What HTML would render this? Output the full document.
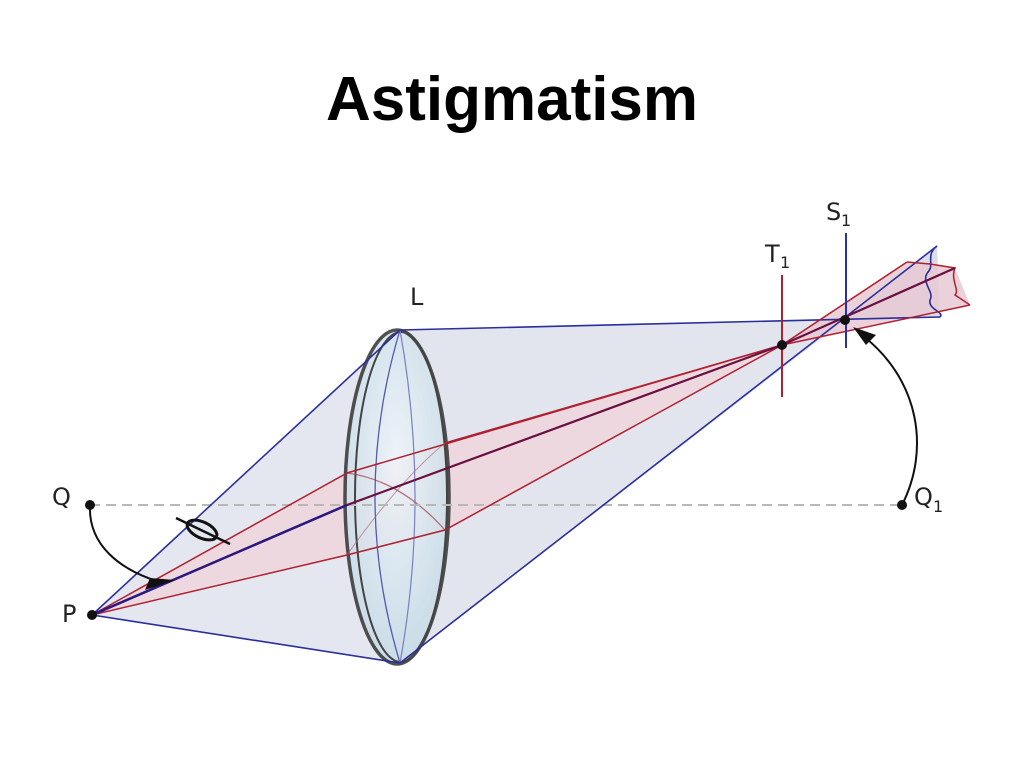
<!DOCTYPE html>
<html><head><meta charset="utf-8"><style>
html,body{margin:0;padding:0;background:#fff;}
svg{display:block;}
</style></head><body>
<svg width="1024" height="768" viewBox="0 0 1024 768" xmlns="http://www.w3.org/2000/svg">
<text x="512" y="120" text-anchor="middle" font-family="Liberation Sans, sans-serif" font-weight="bold" font-size="62">Astigmatism</text>
<polygon points="92,615 400,330 400,663" fill="#e4e6f0" stroke="none"/>
<polygon points="400,330 940,317 845,320 400,663" fill="#e2e4ee"/>
<polygon points="845,320 937,246 940,317" fill="#dcdde8"/>
<polygon points="92,615 347,473 445,443 782,345 445,530 347,555" fill="#f0d4dc" opacity="0.8"/>
<polygon points="782,345 907,262 955,268 970,305" fill="#e8c9d2" opacity="0.85"/>
<defs><radialGradient id="lg" cx="0.5" cy="0.4" r="0.6"><stop offset="0" stop-color="#f0f6fb"/><stop offset="1" stop-color="#c6dbe6"/></radialGradient></defs>
<ellipse cx="397" cy="497" rx="52" ry="167" fill="url(#lg)" opacity="0.85" stroke="#333" stroke-width="3.5"/>
<ellipse cx="401" cy="497" rx="46" ry="165" fill="none" stroke="#444" stroke-width="2"/>
<path d="M400,330 Q350,497 400,663" fill="none" stroke="#5558b0" stroke-width="1.3"/>
<path d="M400,330 Q430,497 400,663" fill="none" stroke="#7a7fc0" stroke-width="1.2"/>
<path d="M347,473 Q400,480 445,530" fill="none" stroke="#a04050" stroke-width="1.3" opacity="0.7"/>
<path d="M347,555 Q400,480 445,443" fill="none" stroke="#b06070" stroke-width="1.1" opacity="0.6"/>
<line x1="90" y1="505" x2="902" y2="505" stroke="#b8b8b8" stroke-width="2" stroke-dasharray="10,6"/>
<g stroke="#2a2f9a" stroke-width="1.6" fill="none">
<line x1="92" y1="615" x2="400" y2="330"/>
<line x1="92" y1="615" x2="400" y2="663"/>
<line x1="400" y1="330" x2="940" y2="317"/>
<line x1="400" y1="663" x2="937" y2="246"/>
<path d="M937,246 C925,255 935,265 928,272 C920,282 935,292 930,300 C928,310 945,312 940,317"/>
</g>
<g stroke="#b02030" stroke-width="1.5" fill="none">
<polyline points="92,615 347,473 782,345 907,262"/>
<polyline points="92,615 347,555 445,530 782,345 970,305"/>
<polyline points="445,443 782,345"/>
<path d="M907,262 L930,264 L955,268 C950,280 960,290 955,295 L970,305"/>
<line x1="782" y1="275" x2="782" y2="397" stroke-width="2"/>
</g>
<polyline points="92,615 347,505 782,345 955,268" stroke="#6a1040" stroke-width="2.2" fill="none"/>
<line x1="92" y1="615" x2="347" y2="505" stroke="#2a1a80" stroke-width="2.5"/>
<line x1="846" y1="233" x2="846" y2="348" stroke="#2a2fb0" stroke-width="2"/>
<circle cx="92" cy="615" r="5" fill="#111"/>
<circle cx="90" cy="505" r="5" fill="#111"/>
<circle cx="902" cy="505" r="5" fill="#111"/>
<circle cx="782" cy="345" r="5" fill="#111"/>
<circle cx="845" cy="320" r="5" fill="#111"/>
<path d="M90,505 C88,545 120,570 160,582" stroke="#111" stroke-width="2" fill="none"/>
<polygon points="175,580 145,590 150,578" fill="#111"/>
<path d="M902,505 C930,450 920,380 862,335" stroke="#111" stroke-width="2" fill="none"/>
<polygon points="853,327 876,335 866,345" fill="#111"/>
<ellipse cx="202" cy="530" rx="16" ry="8" transform="rotate(25 202 530)" fill="none" stroke="#111" stroke-width="3"/>
<line x1="176" y1="518" x2="230" y2="544" stroke="#111" stroke-width="2.5"/>
<g font-family="DejaVu Sans, Liberation Sans, sans-serif" font-size="24" fill="#222">
<text x="52" y="505">Q</text>
<text x="62" y="622">P</text>
<text x="410" y="305">L</text>
<text x="914" y="505">Q</text><text x="933" y="512" font-size="16">1</text>
<text x="765" y="262">T</text><text x="780" y="268" font-size="16">1</text>
<text x="826" y="220">S</text><text x="841" y="226" font-size="16">1</text>
</g>
</svg>
</body></html>
